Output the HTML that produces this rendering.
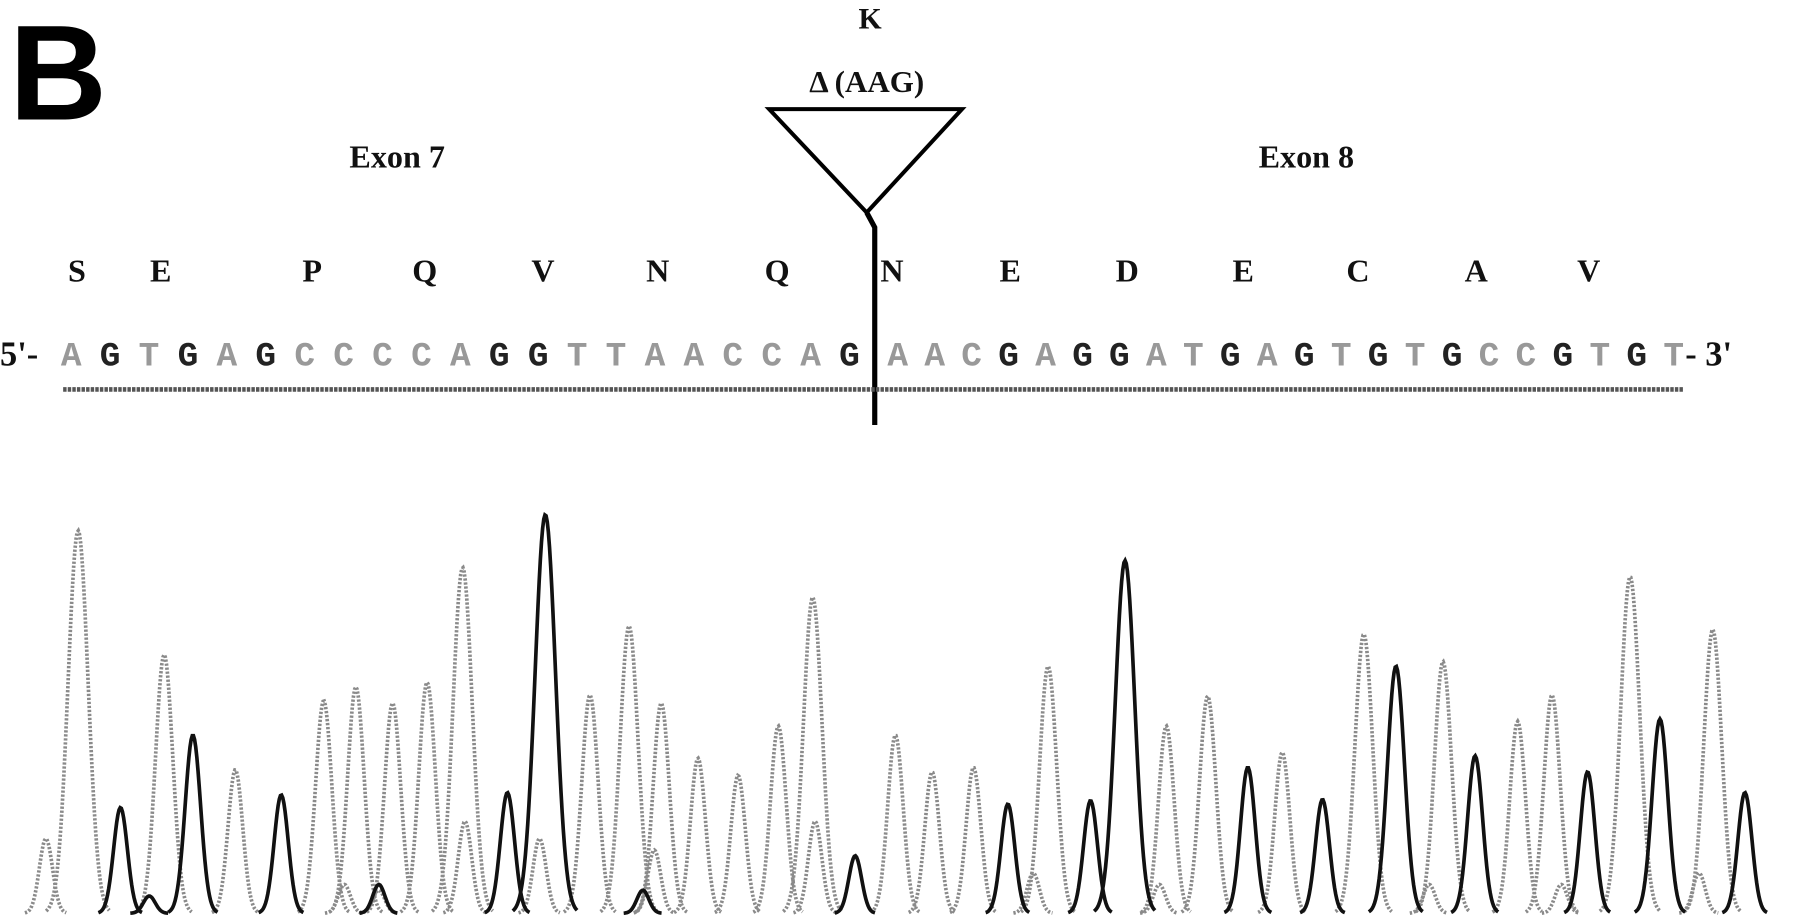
<!DOCTYPE html>
<html><head><meta charset="utf-8"><style>
html,body{margin:0;padding:0;background:#fff;}
svg{display:block}
.s{font-family:"Liberation Serif",serif;font-weight:bold;fill:#111}
</style></head><body>
<svg id="g" width="1800" height="919" viewBox="0 0 1568 800" preserveAspectRatio="none" xmlns="http://www.w3.org/2000/svg">
<text x="8" y="104" font-family="Liberation Sans,sans-serif" font-weight="bold" font-size="118" fill="#000">B</text>
<text class="s" x="758" y="25" font-size="26" text-anchor="middle">K</text>
<text class="s" x="755" y="80" font-size="27" text-anchor="middle">Δ (AAG)</text>
<polygon points="670,95 838,95 755,185" fill="none" stroke="#000" stroke-width="3.5"/>
<polyline points="755,185 762,198 762,370" fill="none" stroke="#000" stroke-width="4.5"/>
<text class="s" x="346" y="146" font-size="28" text-anchor="middle">Exon 7</text>
<text class="s" x="1138" y="146" font-size="28" text-anchor="middle">Exon 8</text>
<g class="s" font-size="28" text-anchor="middle">
<text x="67" y="245">S</text><text x="140" y="245">E</text><text x="272" y="245">P</text><text x="370" y="245">Q</text><text x="473" y="245">V</text><text x="573" y="245">N</text><text x="677" y="245">Q</text><text x="777" y="245">N</text><text x="880" y="245">E</text><text x="982" y="245">D</text><text x="1083" y="245">E</text><text x="1183" y="245">C</text><text x="1286" y="245">A</text><text x="1384" y="245">V</text>
</g>
<text class="s" x="0" y="318" font-size="30">5'-</text>
<text class="s" x="1468" y="318" font-size="30">- 3'</text>
<line x1="55" y1="339" x2="1466" y2="339" stroke="#555" stroke-width="4" stroke-dasharray="3 1"/>
<g id="seq" font-family="Liberation Mono,monospace" font-size="30" font-weight="bold" text-anchor="middle"></g>
<g id="peaks"></g>
</svg>
<script>
var seq1="AGTGAGCCCCAGGTTAACCAG",seq2="AACGAGGATGAGTGTGCCGTGT";
var g=document.getElementById('seq'),h='';
function add(s,x0,x1){var d=(x1-x0)/(s.length-1);for(var i=0;i<s.length;i++){var c=s[i];h+='<text x="'+(x0+i*d).toFixed(1)+'" y="318" fill="'+(c=='G'?'#222':'#999')+'">'+c+'</text>';}}
add(seq1,62,740);add(seq2,782,1458);g.innerHTML=h;
var gray=[[68,462],[143,570],[205,670],[282,610],[310,598],[342,612],[372,594],[403,494],[514,605],[548,545],[576,612],[608,660],[643,675],[678,632],[708,520],[780,640],[812,672],[848,668],[913,580],[1016,632],[1052,606],[1117,655],[1188,552],[1257,576],[1322,628],[1352,605],[1420,502],[1492,548],[40,730],[300,770],[330,775],[405,715],[470,730],[570,740],[710,715],[900,760],[1010,770],[1245,770],[1360,770],[1480,760]];
var dark=[[105,703],[168,640],[245,692],[442,690],[475,448],[745,745],[878,700],[950,697],[980,488],[1087,668],[1152,696],[1216,580],[1285,658],[1383,672],[1446,626],[130,780],[330,770],[560,775],[1520,690]];
var base=795,p='';
function pk(a,col,dash){for(var k=0;k<a.length;k++){var x=a[k][0],t=a[k][1],H=base-t,sg=5+H/90,d='';for(var dx=-3.2*sg;dx<=3.2*sg;dx+=1){var y=base-H*Math.exp(-dx*dx/(2*sg*sg));d+=(d?'L':'M')+(x+dx).toFixed(1)+','+y.toFixed(1);}p+='<path d="'+d+'" fill="none" stroke="'+col+'" stroke-width="3.2"'+(dash?' stroke-dasharray="2 1.5"':'')+'/>';}}
pk(gray,'#8a8a8a',true);pk(dark,'#111',false);
document.getElementById('peaks').innerHTML=p;
</script>
</body></html>
